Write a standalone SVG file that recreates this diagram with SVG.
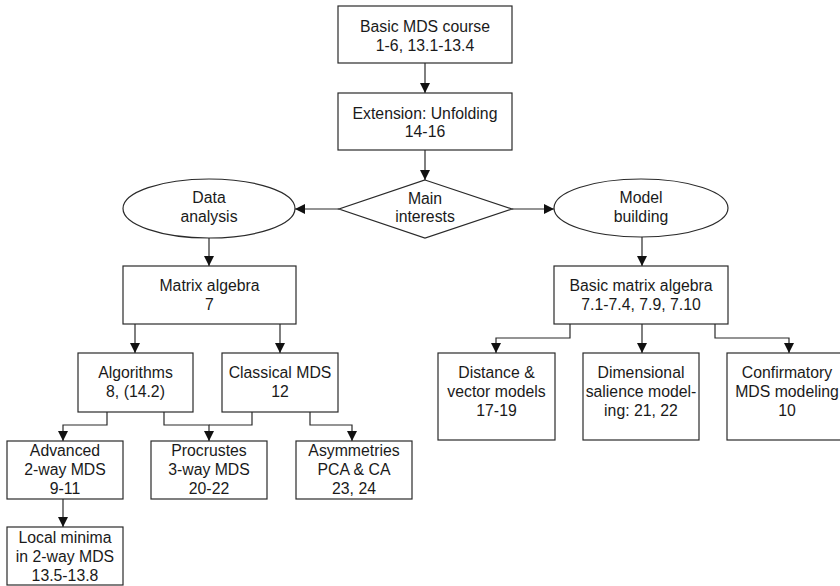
<svg xmlns="http://www.w3.org/2000/svg" width="840" height="586" viewBox="0 0 840 586">
<defs>
<style>
.n{fill:#fff;stroke:#2a2a2a;stroke-width:1.2}
.t{font-family:"Liberation Sans",Arial,sans-serif;font-size:15.8px;fill:#1a1a1a;text-anchor:middle}
.c{fill:none;stroke:#2a2a2a;stroke-width:1.2}
</style>
<marker id="ah" viewBox="0 0 10 10" refX="10" refY="5" markerWidth="10" markerHeight="10" markerUnits="userSpaceOnUse" orient="auto">
<path d="M0,0 L10,5 L0,10 Z" fill="#111"/>
</marker>
</defs>
<rect width="840" height="586" fill="#fff"/>
<g id="connectors">
<path class="c" d="M425,63 V93" marker-end="url(#ah)"/>
<path class="c" d="M425,150 V180" marker-end="url(#ah)"/>
<path class="c" d="M339,209 H295" marker-end="url(#ah)"/>
<path class="c" d="M512,209 H554" marker-end="url(#ah)"/>
<path class="c" d="M209,238 V266" marker-end="url(#ah)"/>
<path class="c" d="M642,237 V266" marker-end="url(#ah)"/>
<path class="c" d="M135,324 V353" marker-end="url(#ah)"/>
<path class="c" d="M280,324 V353" marker-end="url(#ah)"/>
<path class="c" d="M107,412 V425 H63 V441" marker-end="url(#ah)"/>
<path class="c" d="M164,412 V425 H209 V441" marker-end="url(#ah)"/>
<path class="c" d="M252,412 V425 H209"/>
<path class="c" d="M310,412 V425 H352 V441" marker-end="url(#ah)"/>
<path class="c" d="M63,499 V527" marker-end="url(#ah)"/>
<path class="c" d="M570,324 V338 H496 V353" marker-end="url(#ah)"/>
<path class="c" d="M642,324 V353" marker-end="url(#ah)"/>
<path class="c" d="M715,324 V338 H789 V353" marker-end="url(#ah)"/>
</g>
<g id="basic-mds">
<rect class="n" x="338" y="6" width="174" height="57"/>
<text class="t" x="425" y="31.5">Basic MDS course</text>
<text class="t" x="425" y="50.5">1-6, 13.1-13.4</text>
</g>
<g id="extension">
<rect class="n" x="338" y="93" width="174" height="57"/>
<text class="t" x="425" y="119">Extension: Unfolding</text>
<text class="t" x="425" y="137">14-16</text>
</g>
<g id="main-interests">
<polygon class="n" points="425,180 512,209 425,238 339,209"/>
<text class="t" x="425" y="204">Main</text>
<text class="t" x="425" y="222">interests</text>
</g>
<g id="data-analysis">
<ellipse class="n" cx="209" cy="208.5" rx="86" ry="29.5"/>
<text class="t" x="209" y="203">Data</text>
<text class="t" x="209" y="222">analysis</text>
</g>
<g id="model-building">
<ellipse class="n" cx="641" cy="208" rx="87" ry="29"/>
<text class="t" x="641" y="203">Model</text>
<text class="t" x="641" y="222">building</text>
</g>
<g id="matrix-algebra">
<rect class="n" x="123" y="266" width="173" height="58"/>
<text class="t" x="209.5" y="291">Matrix algebra</text>
<text class="t" x="209.5" y="310">7</text>
</g>
<g id="basic-matrix-algebra">
<rect class="n" x="554" y="266" width="174" height="58"/>
<text class="t" x="641" y="291">Basic matrix algebra</text>
<text class="t" x="641" y="310">7.1-7.4, 7.9, 7.10</text>
</g>
<g id="algorithms">
<rect class="n" x="78" y="353" width="115" height="59"/>
<text class="t" x="135.5" y="378">Algorithms</text>
<text class="t" x="135.5" y="397">8, (14.2)</text>
</g>
<g id="classical-mds">
<rect class="n" x="222" y="353" width="116" height="59"/>
<text class="t" x="280" y="378">Classical MDS</text>
<text class="t" x="280" y="397">12</text>
</g>
<g id="advanced">
<rect class="n" x="7" y="441" width="116" height="58"/>
<text class="t" x="65" y="456">Advanced</text>
<text class="t" x="65" y="475">2-way MDS</text>
<text class="t" x="65" y="494">9-11</text>
</g>
<g id="procrustes">
<rect class="n" x="151" y="441" width="116" height="58"/>
<text class="t" x="209" y="456">Procrustes</text>
<text class="t" x="209" y="475">3-way MDS</text>
<text class="t" x="209" y="494">20-22</text>
</g>
<g id="asymmetries">
<rect class="n" x="296" y="441" width="116" height="58"/>
<text class="t" x="354" y="456">Asymmetries</text>
<text class="t" x="354" y="475">PCA &amp; CA</text>
<text class="t" x="354" y="494">23, 24</text>
</g>
<g id="local-minima">
<rect class="n" x="7" y="527" width="116" height="58"/>
<text class="t" x="65" y="543">Local minima</text>
<text class="t" x="65" y="562">in 2-way MDS</text>
<text class="t" x="65" y="581">13.5-13.8</text>
</g>
<g id="distance-vector">
<rect class="n" x="438" y="353" width="117" height="87"/>
<text class="t" x="496.5" y="378">Distance &amp;</text>
<text class="t" x="496.5" y="397">vector models</text>
<text class="t" x="496.5" y="416">17-19</text>
</g>
<g id="dimensional-salience">
<rect class="n" x="583" y="353" width="116" height="87"/>
<text class="t" x="641" y="378">Dimensional</text>
<text class="t" x="641" y="397">salience model-</text>
<text class="t" x="641" y="416">ing: 21, 22</text>
</g>
<g id="confirmatory">
<rect class="n" x="727" y="353" width="120" height="87"/>
<text class="t" x="787" y="378">Confirmatory</text>
<text class="t" x="787" y="397">MDS modeling</text>
<text class="t" x="787" y="416">10</text>
</g>
</svg>
